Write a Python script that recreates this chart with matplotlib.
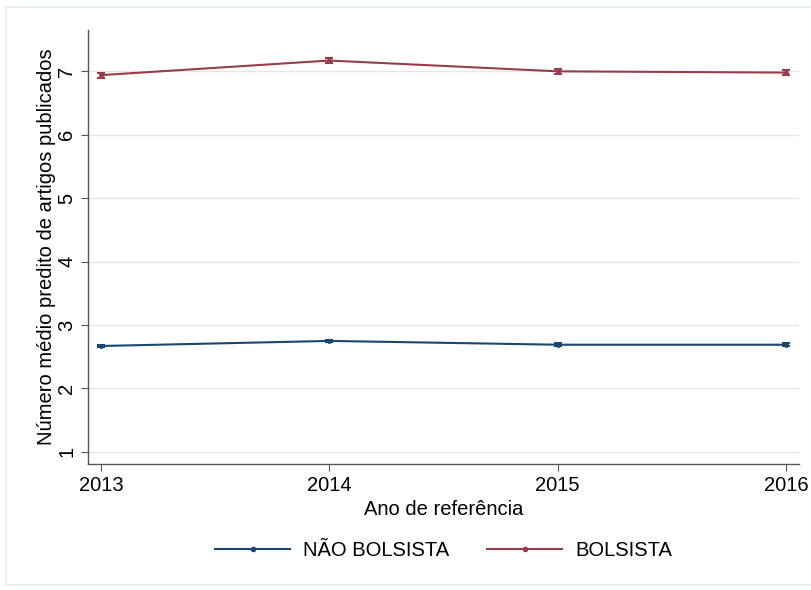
import matplotlib.pyplot as plt
from matplotlib.patches import Rectangle
from matplotlib.lines import Line2D

plt.rcParams['font.family'] = ['Liberation Sans', 'DejaVu Sans']

# dados
anos = [2013, 2014, 2015, 2016]
nao_bolsista = [2.67, 2.75, 2.69, 2.69]
nao_bolsista_erro = [0.02, 0.02, 0.02, 0.02]
bolsista = [6.94, 7.17, 7.00, 6.98]
bolsista_erro = [0.04, 0.04, 0.04, 0.04]
y_ticks = [1, 2, 3, 4, 5, 6, 7]

azul = '#1a476f'
vermelho = '#983d47'

fig = plt.figure(figsize=(8.12, 5.90), dpi=100)
ax = fig.add_axes([0.1084, 0.2136, 0.8756, 0.7354])

# moldura externa clara
fig.patches.append(Rectangle((0.007, 0.008), 1.2, 0.98, transform=fig.transFigure,
                             fill=False, edgecolor='#e8eeee', linewidth=1.2))

ax.errorbar(anos, nao_bolsista, yerr=nao_bolsista_erro, color=azul, linewidth=1.5,
            marker='o', markersize=2.5, capsize=3, elinewidth=2.5, capthick=1.5)
ax.errorbar(anos, bolsista, yerr=bolsista_erro, color=vermelho, linewidth=1.5,
            marker='o', markersize=2.5, capsize=3, elinewidth=2.5, capthick=1.5)

ax.set_xlim(2012.943, 2016.057)
ax.set_ylim(0.81, 7.65)
ax.set_xticks(anos)
ax.set_yticks(y_ticks)
ax.grid(axis='y', color='#e6e6e6', linewidth=1.0)
ax.set_axisbelow(True)

for s in ['top', 'right']:
    ax.spines[s].set_visible(False)
for s in ['left', 'bottom']:
    ax.spines[s].set_color('#555555')
    ax.spines[s].set_linewidth(1.0)

ax.tick_params(labelsize=14.5, color='#555555', length=5)
for lab in ax.get_yticklabels():
    lab.set_rotation(90)
    lab.set_va('center')

ax.set_xlabel('Ano de referência', fontsize=14.5, labelpad=4)
ax.set_ylabel('Número médio predito de artigos publicados', fontsize=14.5, labelpad=1)

A = Line2D([], [], color=azul, linewidth=1.5, marker='o', markersize=3)
B = Line2D([], [], color=vermelho, linewidth=1.5, marker='o', markersize=3)
ax.legend(handles=[A, B], labels=['NÃO BOLSISTA', 'BOLSISTA'], loc='center',
          bbox_to_anchor=(0.5, -0.2), ncol=2, frameon=False, fontsize=14.5,
          handlelength=3.7, columnspacing=1.9, handletextpad=0.65)

plt.savefig('out.png', dpi=100)
